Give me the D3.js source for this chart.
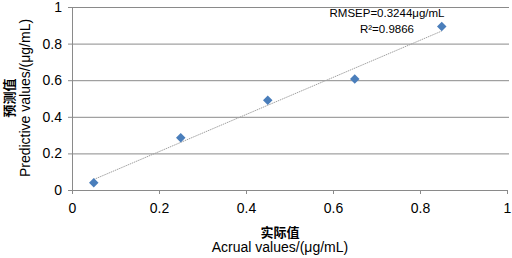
<!DOCTYPE html>
<html>
<head>
<meta charset="utf-8">
<script src="https://cdn.jsdelivr.net/npm/d3@7"></script>
<style>
  body { margin: 0; background: #fff; }
  text { font-family: "Liberation Sans", Arial, sans-serif; }
</style>
</head>
<body>
<svg></svg>
<script>
const actual = [0.05, 0.25, 0.45, 0.65, 0.85];
const predicted = [0.04, 0.285, 0.49, 0.607, 0.893];
const xTicks = [0, 0.2, 0.4, 0.6, 0.8, 1];
const yTicks = [0, 0.2, 0.4, 0.6, 0.8, 1];
const note = ['RMSEP=0.3244μg/mL', 'R²=0.9866'];

const svg = d3.select('svg')
	.attr('width', 512)
	.attr('height', 258);

const margin = { left: 72, top: 7, right: 5, bottom: 68 },
	innerWidth = 512 - margin.left - margin.right,
	innerHeight = 258 - margin.top - margin.bottom;

const data = actual.map((x, i) => ({ x, y: predicted[i] }));

const xScale = d3.scaleLinear().domain([0, 1]).range([0, innerWidth]);
const yScale = d3.scaleLinear().domain([0, 1]).range([innerHeight, 0]);

const g = svg.append('g')
	.attr('transform', `translate(${margin.left}, ${margin.top})`);

const gridColor = '#8a8a8a';

// gridlines
g.append('g')
	.call(d3.axisLeft(yScale).tickValues(yTicks.slice(1)).tickSize(-innerWidth - 2).tickFormat(''))
	.call(s => s.select('.domain').remove())
	.selectAll('line').attr('stroke', gridColor);

// y axis
const yAxisG = g.append('g')
	.call(d3.axisLeft(yScale).tickValues(yTicks).tickSize(4).tickPadding(6)
		.tickFormat(d => d3.format('~g')(d)));
yAxisG.select('.domain').attr('stroke', gridColor);
yAxisG.selectAll('line').attr('stroke', gridColor);
yAxisG.selectAll('text').attr('font-size', 14).attr('fill', '#000')
	.attr('font-family', '"Liberation Sans", Arial, sans-serif');

// x axis
const xAxisG = g.append('g')
	.attr('transform', `translate(0, ${innerHeight})`)
	.call(d3.axisBottom(xScale).tickValues(xTicks).tickSize(4).tickPadding(9)
		.tickFormat(d => d3.format('~g')(d)));
xAxisG.select('.domain').attr('stroke', gridColor);
xAxisG.selectAll('line').attr('stroke', gridColor);
xAxisG.selectAll('text').attr('font-size', 14).attr('fill', '#000')
	.attr('font-family', '"Liberation Sans", Arial, sans-serif');

// linear trendline
const mx = d3.mean(data, d => d.x), my = d3.mean(data, d => d.y);
const slope = d3.sum(data, d => (d.x - mx) * (d.y - my)) / d3.sum(data, d => (d.x - mx) ** 2);
const icpt = my - slope * mx;
const ext = d3.extent(actual);
g.append('line')
	.attr('x1', xScale(ext[0])).attr('y1', yScale(icpt + slope * ext[0]))
	.attr('x2', xScale(ext[1])).attr('y2', yScale(icpt + slope * ext[1]))
	.attr('stroke', '#a0a0a0')
	.attr('stroke-width', 1)
	.attr('stroke-dasharray', '1.5 0.8');

// points
g.selectAll('path.pt').data(data).enter().append('path')
	.attr('class', 'pt')
	.attr('d', d3.symbol(d3.symbolDiamond2, 58)())
	.attr('transform', d => `translate(${xScale(d.x)}, ${yScale(d.y)})`)
	.attr('fill', '#4a7ebb');

// annotation
g.append('text')
	.attr('x', 315).attr('y', 10)
	.attr('text-anchor', 'middle')
	.attr('font-size', 11.5)
	.selectAll('tspan').data(note).enter().append('tspan')
	.attr('x', 315)
	.attr('dy', (d, i) => i === 0 ? 0 : 16)
	.text(d => d);

// axis titles
svg.append('text')
	.attr('x', 280).attr('y', 237)
	.attr('text-anchor', 'middle')
	.attr('font-size', 13)
	.attr('font-weight', 'bold')
	.style('font-family', '"Noto Sans CJK SC", sans-serif')
	.text('实际值');
svg.append('text')
	.attr('x', 280).attr('y', 252)
	.attr('text-anchor', 'middle')
	.attr('font-size', 14)
	.text('Acrual values/(μg/mL)');

svg.append('text')
	.attr('transform', 'translate(14, 98) rotate(-90)')
	.attr('text-anchor', 'middle')
	.attr('font-size', 13)
	.attr('font-weight', 'bold')
	.style('font-family', '"Noto Sans CJK SC", sans-serif')
	.text('预测值');
svg.append('text')
	.attr('transform', 'translate(30, 98) rotate(-90)')
	.attr('text-anchor', 'middle')
	.attr('font-size', 14)
	.text('Predictive values/(μg/mL)');
</script>
</body>
</html>
